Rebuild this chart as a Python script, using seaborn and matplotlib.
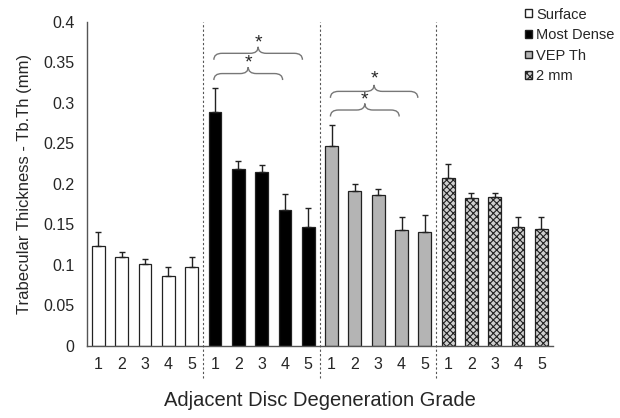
import numpy as np
import pandas as pd
import matplotlib
matplotlib.use("Agg")
import matplotlib.pyplot as plt
import seaborn as sns
from matplotlib.path import Path
from matplotlib.patches import PathPatch, Patch

groups = ["Surface", "Most Dense", "VEP Th", "2 mm"]
grades = ["1", "2", "3", "4", "5"]
surface = [0.123, 0.110, 0.101, 0.086, 0.097]
surface_err = [0.017, 0.006, 0.006, 0.011, 0.013]
most_dense = [0.288, 0.218, 0.215, 0.168, 0.146]
most_dense_err = [0.030, 0.010, 0.008, 0.019, 0.024]
vep_th = [0.247, 0.191, 0.186, 0.143, 0.140]
vep_th_err = [0.025, 0.009, 0.008, 0.016, 0.021]
two_mm = [0.207, 0.182, 0.183, 0.147, 0.144]
two_mm_err = [0.017, 0.007, 0.006, 0.012, 0.015]

values = surface + most_dense + vep_th + two_mm
errs = surface_err + most_dense_err + vep_th_err + two_mm_err
df = pd.DataFrame({
    "cat": [f"{g} {n}" for g in groups for n in grades],
    "group": [g for g in groups for n in grades],
    "value": values,
})

sns.set_theme(style="white")
plt.rcParams["font.family"] = ["Liberation Sans", "DejaVu Sans"]
plt.rcParams["hatch.color"] = "#7a7a7a"
plt.rcParams["hatch.linewidth"] = 0.8

colors = {"Surface": "white", "Most Dense": "black", "VEP Th": "#b4b4b4", "2 mm": "#cfcfcf"}

fig = plt.figure(figsize=(6.2, 4.18), dpi=100)
ax = fig.add_axes([0.140, 0.173, 0.752, 0.775])
sns.barplot(data=df, x="cat", y="value", hue="group", palette=colors, dodge=False,
            width=0.55, edgecolor="#222222", linewidth=0.9, legend=False, ax=ax)

for p in ax.patches:
    if p.get_height() == 0:
        continue
    if int(round(p.get_x() + p.get_width() / 2)) >= 15:
        p.set_hatch("xxxxx")

xs = np.arange(len(values))
ax.errorbar(xs, values, yerr=[np.zeros(len(errs)), errs], fmt="none",
            ecolor="#222222", elinewidth=1, capsize=2.5, capthick=1)

yt = np.arange(0, 0.401, 0.05).round(2)
ax.set_ylim(0, 0.4)
ax.set_xlim(-0.5, 19.5)
ax.set_yticks(yt)
ax.set_yticklabels([f"{v:g}" for v in yt], fontsize=11.5)
ax.set_xticks(xs)
ax.set_xticklabels(grades * 4, fontsize=11.5)
ax.tick_params(axis="y", length=4, color="#555555", pad=5)
ax.tick_params(axis="x", length=0, pad=8)
for s in ["top", "right"]:
    ax.spines[s].set_visible(False)
for s in ["left", "bottom"]:
    ax.spines[s].set_color("#555555")
    ax.spines[s].set_linewidth(1)
ax.set_xlabel("Adjacent Disc Degeneration Grade", fontsize=14.5, labelpad=14)
ax.set_ylabel("Trabecular Thickness - Tb.Th (mm)", fontsize=12, labelpad=8)

trans = ax.get_xaxis_transform()
for xv in [4.5, 9.5, 14.5]:
    ax.plot([xv, xv], [-0.10, 1.0], transform=trans, color="#555555",
            linestyle=(0, (2, 2)), linewidth=0.8, clip_on=False)


def brace(x0, x1, y, h, dx=0.35):
    xm = (x0 + x1) / 2
    verts = [(x0, y - h), (x0, y), (x0 + dx, y), (xm - dx, y), (xm, y), (xm, y + h),
             (xm, y), (xm + dx, y), (x1 - dx, y), (x1, y), (x1, y - h)]
    codes = [Path.MOVETO, Path.CURVE3, Path.CURVE3, Path.LINETO, Path.CURVE3, Path.CURVE3,
             Path.CURVE3, Path.CURVE3, Path.LINETO, Path.CURVE3, Path.CURVE3]
    ax.add_patch(PathPatch(Path(verts, codes), facecolor="none", edgecolor="#777777", lw=1))


brace(4.95, 7.9, 0.336, 0.008)
ax.text(6.42, 0.349, "*", ha="center", va="center", fontsize=14)
brace(4.95, 8.75, 0.361, 0.008)
ax.text(6.85, 0.374, "*", ha="center", va="center", fontsize=14)
brace(9.95, 12.9, 0.291, 0.008)
ax.text(11.42, 0.304, "*", ha="center", va="center", fontsize=14)
brace(9.95, 13.7, 0.314, 0.008)
ax.text(11.82, 0.329, "*", ha="center", va="center", fontsize=14)

handles = [Patch(facecolor="white", edgecolor="#222222"),
           Patch(facecolor="black", edgecolor="#222222"),
           Patch(facecolor="#b4b4b4", edgecolor="#222222"),
           Patch(facecolor="#cfcfcf", edgecolor="#222222", hatch="xxxxx")]
fig.legend(handles, groups, loc="upper left", bbox_to_anchor=(0.847, 0.982),
           frameon=False, fontsize=10.5, handlelength=0.45, handleheight=0.45,
           handletextpad=0.3, labelspacing=0.45, borderpad=0, borderaxespad=0)

fig.savefig("out.png", dpi=100)
